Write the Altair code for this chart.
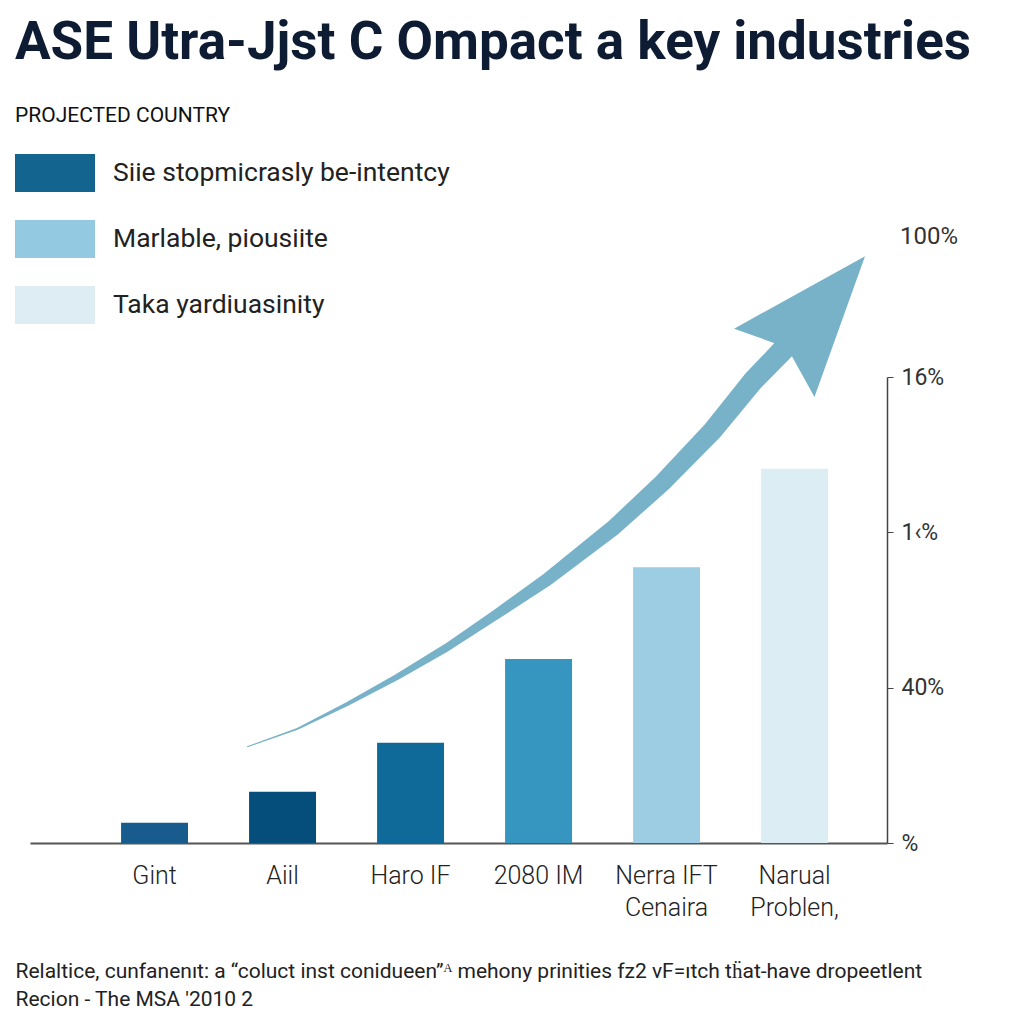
import altair as alt
import pandas as pd

# ---------------- data ----------------
title_text = "ASE Utra-Jjst C Ompact a key industries"

categories = ["Gint", "Aiil", "Haro IF", "2080 IM", "Nerra IFT|Cenaira", "Narual|Problen,"]
values = [2.6, 6.6, 12.9, 23.7, 35.5, 48.2]
bar_colors = ["#175c8d", "#054d7b", "#106a99", "#3796c0", "#9ccde3", "#ddedf4"]

legend_title = "PROJECTED COUNTRY"
legend_labels = ["Siie stopmicrasly be-intentcy", "Marlable, piousiite", "Taka yardiuasinity"]
legend_colors = ["#13648f", "#93c9e1", "#deedf4"]

y_ticks = [0, 20, 40, 60]
y_tick_labels = ["%", "40%", "1‹%", "16%"]
top_label = ["100%"]
top_label_value = [78]

# growth arrow (x in category-step units, 0 = first bar centre; y in axis units)
arrow_x = [0.73, 1.12, 1.51, 1.90, 2.29, 2.68, 3.07, 3.59, 3.98, 4.37, 4.68, 4.95]
arrow_y = [12.4, 14.7, 17.9, 21.4, 25.2, 29.5, 33.9, 40.6, 46.5, 53.2, 59.5, 64.1]
arrow_w = [1, 2, 4, 6, 8, 10, 13, 16, 18, 20, 21, 22]
arrow_head_x = [5.15]
arrow_head_y = [67.7]

footer_lines = [
    "Relaltice, cunfanenıt: a “coluct inst conidueen”ᴬ mehony prinities fz2 vF=ıtch tḧat-have dropeetlent",
    "Recion - The MSA '2010 2",
]

# ---------------- layout ----------------
W, H = 857, 466
Y_DOMAIN = [0, 60]
ARROW_X_DOMAIN = [-0.969, 5.727]
LABEL_FONT = "Roboto"

bars_df = pd.DataFrame({"cat": categories, "val": values, "color": bar_colors})
legend_df = pd.DataFrame({"lab": legend_labels})
arrow_df = pd.DataFrame({"i": list(range(len(arrow_x))), "ax": arrow_x, "ay": arrow_y, "aw": arrow_w})
head_df = pd.DataFrame({"ax": arrow_head_x, "ay": arrow_head_y})
top_df = pd.DataFrame({"t": top_label, "val": top_label_value})

yscale = alt.Scale(domain=Y_DOMAIN, nice=False, zero=True)
label_expr = "[" + ",".join("'" + s + "'" for s in y_tick_labels) + "][round(datum.value/20)]"

bars = alt.Chart(bars_df).mark_bar().encode(
    x=alt.X(
        "cat:N",
        sort=categories,
        scale=alt.Scale(paddingInner=0.477, paddingOuter=0.586, align=0.607),
        axis=alt.Axis(
            ticks=False,
            labelAngle=0,
            labelExpr="split(datum.label, '|')",
            labelFont=LABEL_FONT,
            labelFontSize=25,
            labelFontWeight=300,
            labelColor="#222222",
            labelPadding=20,
            labelLineHeight=32,
            domainColor="#555555",
            domainWidth=2,
            title=footer_lines,
            titleFont=LABEL_FONT,
            titleFontSize=21,
            titleFontWeight="normal",
            titleColor="#222222",
            titleAnchor="start",
            titleAlign="left",
            titleBaseline="top",
            titleX=-15,
            titleY=117,
            titleLineHeight=28,
        ),
    ),
    y=alt.Y(
        "val:Q",
        scale=yscale,
        axis=alt.Axis(
            orient="right",
            values=y_ticks,
            labelExpr=label_expr,
            labelFont=LABEL_FONT,
            labelFontSize=23,
            labelColor="#333333",
            labelPadding=8,
            tickSize=6,
            tickColor="#444444",
            domainColor="#444444",
            domainWidth=1.5,
            grid=False,
            title=None,
        ),
    ),
    color=alt.Color("color:N", scale=None),
)

legend_layer = alt.Chart(legend_df).mark_point(opacity=0, filled=True).encode(
    color=alt.Color(
        "lab:N",
        scale=alt.Scale(domain=legend_labels, range=legend_colors),
        legend=alt.Legend(
            title=legend_title,
            orient="none",
            legendX=-15,
            legendY=-272,
            symbolType="M-1,-0.95H3V0.95H-1Z",
            symbolSize=1600,
            symbolOpacity=1,
            symbolStrokeWidth=0,
            labelOffset=58,
            labelLimit=0,
            labelFont=LABEL_FONT,
            labelFontSize=26.5,
            labelColor="#222222",
            rowPadding=27,
            titleFont=LABEL_FONT,
            titleFontSize=21,
            titleFontWeight="normal",
            titleColor="#111111",
            titlePadding=27,
            titleLimit=0,
        ),
    ),
)

ax_scale = alt.Scale(domain=ARROW_X_DOMAIN, nice=False, zero=False)
trail = alt.Chart(arrow_df).mark_trail(color="#78b2c8").encode(
    x=alt.X("ax:Q", scale=ax_scale, axis=None),
    y=alt.Y("ay:Q", scale=yscale),
    size=alt.Size("aw:Q", scale=None),
    order="i:Q",
)
head = alt.Chart(head_df).mark_point(
    shape="M0,-1L0.66,0.75L0,0.5L-0.66,0.75Z",
    size=25600,
    angle=40.4,
    filled=True,
    opacity=1,
    color="#78b2c8",
    clip=False,
).encode(
    x=alt.X("ax:Q", scale=ax_scale, axis=None),
    y=alt.Y("ay:Q", scale=yscale),
)
arrow = alt.layer(trail, head)

top_text = alt.Chart(top_df).mark_text(
    align="left", baseline="middle", font=LABEL_FONT, fontSize=24, color="#333333"
).encode(
    y=alt.Y("val:Q", scale=yscale),
    x=alt.value(W + 13),
    text="t:N",
)

chart = (
    alt.layer(bars, arrow, top_text, legend_layer)
    .resolve_scale(x="independent", color="independent")
    .properties(
        width=W,
        height=H,
        background="white",
        autosize=alt.AutoSizeParams(type="none"),
        padding={"left": 22, "top": 369, "right": 129, "bottom": 173},
        title=alt.TitleParams(
            text=title_text,
            anchor="start",
            frame="group",
            orient="top",
            font=LABEL_FONT,
            fontSize=53,
            fontWeight="bold",
            color="#0d1b33",
            baseline="alphabetic",
            offset=43,
            dx=-15,
            dy=50,
        ),
    )
    .configure_view(stroke="transparent", strokeWidth=0)
)

chart.save("out.html", embed_options={"renderer": "svg", "actions": False})
